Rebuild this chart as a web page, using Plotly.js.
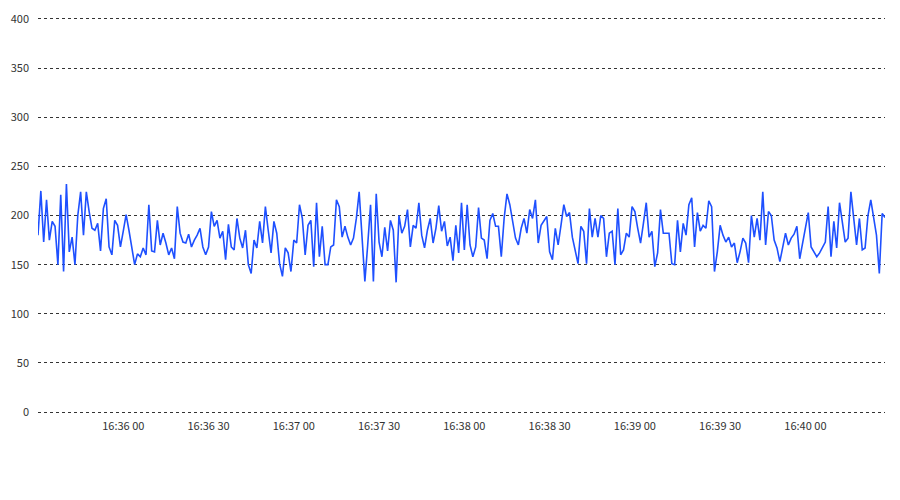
<!DOCTYPE html>
<html>
<head>
<meta charset="utf-8">
<script src="https://cdn.plot.ly/plotly-3.0.1.min.js"></script>
<style>
  html, body { margin: 0; padding: 0; background: #fff; }
  #chart { width: 900px; height: 500px; }
</style>
</head>
<body>
<div id="chart"></div>
<script>
// One sample per second, starting at 16:35:30
const startTime = "2024-01-01T16:35:30";
const values = [
  180,225,173,216,175,194,189,150,221,143,232,163,178,150,200,224,180,224,204,187,185,192,164,207,217,168,160,195,190,
  168,184,201,185,165,150,161,158,167,160,211,164,163,195,170,182,172,160,167,156,209,182,173,172,181,168,175,180,187,168,
  160,168,204,189,195,177,184,155,191,168,165,197,177,167,185,150,141,175,167,194,172,209,185,162,194,182,151,138,167,162,
  143,175,172,211,197,160,190,195,148,213,158,189,150,150,168,170,216,209,178,189,178,170,177,197,224,180,133,170,211,133,
  222,173,158,188,164,195,185,132,200,182,189,206,168,190,187,213,180,167,185,197,172,187,210,184,194,169,178,154,190,162,
  213,165,211,170,158,168,208,177,175,156,195,202,189,189,158,197,222,211,194,177,170,187,197,182,206,197,216,172,190,194,
  199,163,155,187,170,190,211,199,203,178,165,151,189,184,151,207,178,197,178,200,197,158,182,184,150,207,160,165,182,178,
  209,204,187,172,192,213,178,184,148,162,206,182,182,182,151,150,195,163,192,180,211,218,168,203,184,190,187,215,209,143,
  163,190,180,173,178,168,172,152,163,177,172,152,200,178,197,175,224,170,204,200,175,167,153,168,182,170,177,181,189,156,
  172,187,203,168,163,158,162,168,173,209,158,194,167,213,192,173,177,224,197,170,197,165,167,200,216,197,180,141,202,198
];
const xTickVals = [
  "2024-01-01 16:36:00", "2024-01-01 16:36:30", "2024-01-01 16:37:00", "2024-01-01 16:37:30",
  "2024-01-01 16:38:00", "2024-01-01 16:38:30", "2024-01-01 16:39:00", "2024-01-01 16:39:30",
  "2024-01-01 16:40:00"
];
const xTickText = ["16:36 00", "16:36 30", "16:37 00", "16:37 30", "16:38 00", "16:38 30", "16:39 00", "16:39 30", "16:40 00"];
const yTicks = [0, 50, 100, 150, 200, 250, 300, 350, 400];

function pad(n) { return (n < 10 ? "0" : "") + n; }
const t0 = new Date(startTime + "Z").getTime();
const times = values.map((v, i) => {
  const d = new Date(t0 + i * 1000);
  return d.getUTCFullYear() + "-" + pad(d.getUTCMonth() + 1) + "-" + pad(d.getUTCDate()) + " " +
         pad(d.getUTCHours()) + ":" + pad(d.getUTCMinutes()) + ":" + pad(d.getUTCSeconds());
});

const trace = {
  x: times,
  y: values,
  type: "scatter",
  mode: "lines",
  line: { color: "#1e50ff", width: 1.6 },
  hoverinfo: "x+y",
  cliponaxis: true
};

const layout = {
  width: 900,
  height: 500,
  margin: { l: 38, r: 15, t: 13, b: 82 },
  paper_bgcolor: "#ffffff",
  plot_bgcolor: "#ffffff",
  showlegend: false,
  font: { family: "'Noto Sans CJK JP', 'Noto Sans', sans-serif", size: 11, color: "#333333" },
  xaxis: {
    type: "date",
    range: [times[0], times[times.length - 1]],
    tickvals: xTickVals,
    ticktext: xTickText,
    showgrid: false,
    zeroline: false,
    showline: false,
    ticks: "",
    ticklabelstandoff: 0,
    tickfont: { size: 11, color: "#333333" }
  },
  yaxis: {
    range: [-6, 406],
    tickvals: yTicks,
    ticktext: yTicks.map(String),
    showgrid: true,
    gridcolor: "#333333",
    gridwidth: 1,
    griddash: "3px,3px",
    zeroline: false,
    showline: false,
    ticks: "",
    ticklabelstandoff: 8,
    tickfont: { size: 11, color: "#333333" }
  }
};

Plotly.newPlot("chart", [trace], layout, { displayModeBar: false, staticPlot: true });
</script>
</body>
</html>
